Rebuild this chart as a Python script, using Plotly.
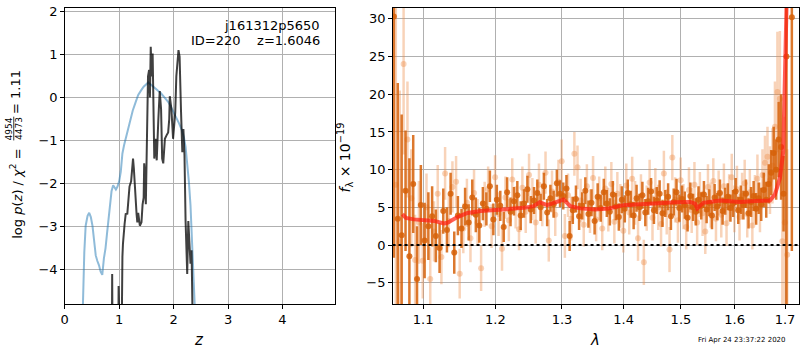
import plotly.graph_objects as go

# ---------------- redshift probability panel ----------------
z_phot = [0.29, 0.33, 0.36, 0.385, 0.42, 0.45, 0.48, 0.51, 0.54, 0.57, 0.60, 0.63,
          0.66, 0.69, 0.72, 0.75, 0.78, 0.81, 0.84, 0.86, 0.89, 0.92, 0.94, 0.97,
          1.00, 1.03, 1.06, 1.09, 1.12, 1.15, 1.20, 1.25, 1.30, 1.35, 1.40, 1.45,
          1.535, 1.58, 1.62, 1.67, 1.72, 1.76, 1.80, 1.85, 1.90, 1.945, 2.00, 2.04,
          2.10, 2.15, 2.19, 2.22, 2.25, 2.28, 2.31, 2.34, 2.37, 2.40, 2.42, 2.46]
logp_phot = [-7.0, -4.6, -3.6, -2.98, -2.75, -2.68, -2.78, -2.98, -3.35, -3.67, -3.80, -3.90,
             -4.05, -4.12, -3.74, -3.50, -3.13, -2.80, -2.35, -2.18, -2.04, -2.10, -2.14, -2.07,
             -1.95, -1.72, -1.30, -1.11, -0.95, -0.78, -0.52, -0.30, -0.12, 0.06, 0.16, 0.25,
             0.35, 0.30, 0.24, 0.19, 0.15, 0.11, 0.05, -0.02, -0.10, -0.20, -0.33, -0.43,
             -0.60, -0.75, -0.93, -1.15, -1.50, -1.95, -2.50, -3.20, -3.90, -4.50, -4.85, -7.0]

z_fit = [0.860, 0.872, 0.884, 0.980, 0.990, 1.000, 1.035, 1.060, 1.070, 1.100,
         1.120, 1.150, 1.160, 1.190, 1.220, 1.240, 1.255, 1.270, 1.300, 1.320,
         1.334, 1.350, 1.380, 1.410, 1.430, 1.450, 1.460, 1.470, 1.490, 1.500,
         1.520, 1.530, 1.550, 1.565, 1.580, 1.600, 1.615, 1.630, 1.645, 1.670,
         1.690, 1.720, 1.745, 1.770, 1.790, 1.810, 1.840, 1.870, 1.900, 1.920,
         1.930, 1.960, 1.980, 1.990, 2.030, 2.050, 2.090, 2.110, 2.135, 2.160,
         2.180, 2.200, 2.220, 2.240, 2.250, 2.270, 2.290, 2.310, 2.330, 2.370]
logp_fit = [-7.0, -4.10, -7.0, -7.0, -4.38, -7.0, -7.0, -3.70, -3.40, -2.94,
            -2.71, -2.70, -2.49, -2.07, -1.95, -1.72, -1.42, -1.65, -2.45, -2.71,
            -2.90, -2.68, -2.98, -2.90, -2.49, -2.33, -1.53, -1.72, -2.48, -1.50,
            -0.20, 0.49, 0.64, 0.00, 1.18, 0.49, 1.02, -0.05, -1.42, -0.96,
            -1.46, -0.50, 0.15, -0.27, -1.42, -1.53, -0.96, -0.88, -0.81, -0.50,
            0.03, -0.27, -0.88, -0.96, -0.35, 0.49, 1.10, 0.95, -0.27, -1.27,
            -0.73, -1.34, -2.87, -4.00, -4.10, -2.87, -3.52, -3.86, -3.55, -7.0]

# ---------------- 1D spectrum panel (two orients + model) ----------------
wave_a = [1.062, 1.067, 1.072, 1.077, 1.082, 1.087, 1.092, 1.097, 1.102, 1.107,
          1.112, 1.117, 1.122, 1.127, 1.132, 1.137, 1.142, 1.147, 1.152, 1.157,
          1.162, 1.167, 1.172, 1.177, 1.182, 1.187, 1.192, 1.197, 1.202, 1.207,
          1.212, 1.217, 1.222, 1.227, 1.232, 1.237, 1.242, 1.247, 1.252, 1.257,
          1.262, 1.267, 1.272, 1.277, 1.282, 1.287, 1.292, 1.297, 1.302, 1.307,
          1.312, 1.317, 1.322, 1.327, 1.332, 1.337, 1.342, 1.347, 1.352, 1.357,
          1.362, 1.367, 1.372, 1.377, 1.382, 1.387, 1.392, 1.397, 1.402, 1.407,
          1.412, 1.417, 1.422, 1.427, 1.432, 1.437, 1.442, 1.447, 1.452, 1.457,
          1.462, 1.467, 1.472, 1.477, 1.482, 1.487, 1.492, 1.497, 1.502, 1.507,
          1.512, 1.517, 1.522, 1.527, 1.532, 1.537, 1.542, 1.547, 1.552, 1.557,
          1.562, 1.567, 1.572, 1.577, 1.582, 1.587, 1.592, 1.597, 1.602, 1.607,
          1.612, 1.617, 1.622, 1.627, 1.632, 1.637, 1.642, 1.647, 1.652, 1.657,
          1.662, 1.667, 1.672, 1.677, 1.682, 1.687, 1.692, 1.697, 1.703, 1.714]
flux_a = [30.3, 3.5, 1.3, 7.2, -1.5, 8.1, -4.5, 5.3, 0.6, 2.5,
          3.8, 1.2, -0.4, 4.5, 2.0, 6.8, -1.0, 3.9, 2.2, 5.1,
          3.0, 6.3, 4.0, 2.6, 5.5, 4.8, 7.8, 3.4, 6.0, 5.2,
          2.4, 7.0, 4.4, 5.8, 6.6, 3.9, 5.5, 7.4, 4.7, 5.9,
          6.9, 5.0, 7.8, 4.3, 6.2, 5.4, 8.2, 6.8, 6.5, 7.5,
          1.2, 4.6, 6.1, 3.8, 5.2, 7.2, 4.1, 5.6, 3.2, 6.4,
          4.9, 7.0, 5.5, 4.4, 6.7, 5.1, 3.7, 6.0, 4.8, 6.9,
          5.4, 3.9, 6.2, 5.0, 6.6, 4.3, 5.8, 7.1, 4.6, 5.9,
          6.8, 4.2, 5.5, 6.4, 3.8, 5.7, 7.0, 4.9, 6.1, 5.3,
          3.6, 6.5, 5.0, 4.4, 6.0, 5.2, 6.7, 4.7, 5.6, 3.9,
          6.3, 5.1, 6.9, 4.5, 5.8, 6.4, 4.9, 5.5, 7.1, 4.6,
          6.0, 5.3, 6.8, 4.2, 5.7, 6.5, 4.8, 6.2, 5.4, 7.3,
          6.0, 8.1, 9.6, 12.2, 10.0, 14.0, 13.0, 6.8, 25.0, 30.2]
err_a = [32, 18, 16, 8, 13, 6.5, 7, 5.3, 5, 4.5,
         4.0, 3.5, 3.3, 3.0, 3.0, 2.8, 2.8, 2.6, 2.6, 2.5,
         2.4, 2.4, 2.3, 2.3, 2.2, 2.2, 2.1, 2.1, 2.0, 2.0,
         2.0, 2.0, 1.9, 1.9, 1.9, 1.9, 1.9, 1.8, 1.8, 1.8,
         1.8, 1.8, 1.8, 1.8, 1.8, 1.8, 1.8, 1.8, 1.8, 1.8,
         2.0, 1.8, 1.8, 1.8, 1.8, 1.8, 1.8, 1.8, 1.8, 1.8,
         1.8, 1.8, 1.8, 1.8, 1.8, 1.8, 1.8, 1.8, 1.8, 1.8,
         1.8, 1.8, 1.8, 1.8, 1.8, 1.8, 1.8, 1.8, 1.8, 1.8,
         1.8, 1.8, 1.8, 1.8, 1.8, 1.8, 1.8, 1.8, 1.8, 1.8,
         1.8, 1.8, 1.8, 1.8, 1.8, 1.8, 1.8, 1.8, 1.8, 1.8,
         1.8, 1.8, 1.8, 1.8, 1.8, 1.8, 1.8, 1.8, 1.8, 1.8,
         1.9, 1.9, 1.9, 2.0, 2.0, 2.0, 2.1, 2.1, 2.2, 2.3,
         2.4, 2.6, 3.0, 3.5, 4.0, 5.0, 7.0, 5.0, 40, 31]

wave_b = [1.0645, 1.0695, 1.0745, 1.0795, 1.0845, 1.0895, 1.0945, 1.0995, 1.1045, 1.1095,
          1.1145, 1.1195, 1.1245, 1.1295, 1.1345, 1.1395, 1.1445, 1.1495, 1.1545, 1.1595,
          1.1645, 1.1695, 1.1745, 1.1795, 1.1845, 1.1895, 1.1945, 1.1995, 1.2045, 1.2095,
          1.2145, 1.2195, 1.2245, 1.2295, 1.2345, 1.2395, 1.2445, 1.2495, 1.2545, 1.2595,
          1.2645, 1.2695, 1.2745, 1.2795, 1.2845, 1.2895, 1.2945, 1.2995, 1.3045, 1.3095,
          1.3145, 1.3195, 1.3245, 1.3295, 1.3345, 1.3395, 1.3445, 1.3495, 1.3545, 1.3595,
          1.3645, 1.3695, 1.3745, 1.3795, 1.3845, 1.3895, 1.3945, 1.3995, 1.4045, 1.4095,
          1.4145, 1.4195, 1.4245, 1.4295, 1.4345, 1.4395, 1.4445, 1.4495, 1.4545, 1.4595,
          1.4645, 1.4695, 1.4745, 1.4795, 1.4845, 1.4895, 1.4945, 1.4995, 1.5045, 1.5095,
          1.5145, 1.5195, 1.5245, 1.5295, 1.5345, 1.5395, 1.5445, 1.5495, 1.5545, 1.5595,
          1.5645, 1.5695, 1.5745, 1.5795, 1.5845, 1.5895, 1.5945, 1.5995, 1.6045, 1.6095,
          1.6145, 1.6195, 1.6245, 1.6295, 1.6345, 1.6395, 1.6445, 1.6495, 1.6545, 1.6595,
          1.6645, 1.6695, 1.6745, 1.6795, 1.6845, 1.6895, 1.6945, 1.6995, 1.7045]
flux_b = [8.0, 0.5, 24.0, 14.0, 6.2, -2.0, 3.0, -2.1, 5.0, -4.5,
          1.8, 6.8, -1.6, 9.5, 3.2, 7.7, 8.4, -3.8, 2.2, 5.6,
          0.9, 6.9, 3.0, -3.1, 5.4, 7.4, 2.5, 9.0, 4.1, -0.5,
          6.3, 3.3, 8.7, 5.0, 2.1, 7.6, 4.4, 9.3, 6.1, 3.0,
          8.0, 5.3, 9.6, 0.6, 7.1, 4.0, 8.4, 11.1, 1.2, 6.6,
          3.5, 12.1, 10.3, 5.9, 2.7, 7.8, 4.5, 8.9, 3.4, 6.2,
          2.2, 7.5, 4.7, 8.1, 3.1, 6.8, 5.2, 1.9, 7.9, 4.3,
          8.8, 5.6, 0.9, 6.4, -2.3, 4.9, 8.3, 3.6, 7.2, 5.0,
          2.8, 9.5, 4.4, -0.6, 11.6, 6.0, 3.3, 8.6, 5.1, 2.4,
          7.3, 4.6, 8.0, 3.0, 6.7, 4.2, 1.8, 7.7, 5.3, 8.5,
          3.5, 6.9, 4.0, 7.8, 2.9, 6.3, 9.0, 4.8, 7.4, 3.7,
          6.5, 8.2, 4.1, 7.0, 2.6, 6.1, 8.8, 5.0, 9.3, 10.9,
          11.7, 8.6, 10.5, 15.7, 20.3, 19.4, 0.5, 3.0, -1.3]
err_b = [24, 20, 12, 7.7, 6.5, 6.0, 5.5, 5.0, 4.5, 4.2,
         4.0, 3.8, 3.6, 3.5, 3.5, 3.4, 3.4, 3.3, 3.3, 3.2,
         3.2, 3.1, 3.1, 3.0, 3.0, 3.0, 2.9, 2.9, 2.9, 2.9,
         2.8, 2.8, 2.8, 2.8, 2.8, 2.8, 2.8, 2.8, 2.8, 2.8,
         2.8, 2.8, 2.8, 2.8, 2.8, 2.8, 2.9, 2.9, 2.9, 2.9,
         2.9, 2.9, 2.9, 2.9, 2.9, 2.9, 2.9, 2.9, 2.9, 2.9,
         2.9, 2.9, 2.9, 2.9, 2.9, 2.9, 2.9, 2.9, 2.9, 2.9,
         2.9, 2.9, 3.0, 3.0, 3.0, 3.0, 3.0, 3.0, 3.0, 3.0,
         3.0, 3.0, 3.0, 3.0, 3.0, 3.0, 3.0, 3.0, 3.0, 3.0,
         3.0, 3.0, 3.0, 3.0, 3.0, 3.0, 3.0, 3.0, 3.0, 3.0,
         3.0, 3.0, 3.0, 3.0, 3.0, 3.1, 3.1, 3.1, 3.1, 3.1,
         3.1, 3.1, 3.1, 3.1, 3.2, 3.2, 3.2, 3.3, 3.4, 3.6,
         4.0, 4.5, 5.0, 6.0, 8.0, 9.0, 12, 14, 14]

model_wave = [1.073, 1.0774, 1.0881, 1.100, 1.1146, 1.1279, 1.1326, 1.1464, 1.1603, 1.1789,
              1.1976, 1.220, 1.2415, 1.2565, 1.2656, 1.2769, 1.2896, 1.3026, 1.3131, 1.3289,
              1.353, 1.375, 1.3999, 1.430, 1.4571, 1.490, 1.5165, 1.5256, 1.5298, 1.535,
              1.5408, 1.5726, 1.6105, 1.640, 1.6694, 1.6795, 1.6896, 1.6963, 1.6997, 1.7032,
              1.706]
model_flux = [4.1, 3.6, 3.4, 3.35, 3.2, 2.85, 2.95, 3.7, 4.25, 4.5,
              4.6, 4.8, 4.93, 5.16, 5.68, 5.29, 5.59, 6.03, 5.16, 4.86,
              4.72, 4.85, 5.29, 5.45, 5.59, 5.68, 5.72, 5.5, 4.86, 5.3,
              5.59, 5.9, 5.72, 5.85, 5.9, 6.69, 8.87, 12.4, 23.3, 31.4,
              40.0]

obj_name = "j161312p5650"
obj_info = "ID=220    z=1.6046"
chi2_num, chi2_den, chi2_red = "4954", "4473", "1.11"
stamp = "Fri Apr 24 23:37:22 2020"

W, H = 800, 350
FONT = "DejaVu Sans"


def px(x):
    return x / W


def py(y):
    return 1 - y / H


fig = go.Figure()

fig.add_trace(go.Scatter(x=z_phot, y=logp_phot, mode="lines",
                         line=dict(color="rgba(31,119,180,0.5)", width=2),
                         xaxis="x", yaxis="y", hoverinfo="skip", showlegend=False))
fig.add_trace(go.Scatter(x=z_fit, y=logp_fit, mode="lines",
                         line=dict(color="rgba(0,0,0,0.75)", width=2),
                         xaxis="x", yaxis="y", hoverinfo="skip", showlegend=False))

light = "rgba(236,140,70,0.38)"
dark = "rgba(214,96,8,0.85)"
fig.add_trace(go.Scatter(x=wave_b, y=flux_b, mode="markers",
                         marker=dict(color=light, size=6, line=dict(width=0)),
                         error_y=dict(type="data", array=err_b, color=light,
                                      thickness=2.5, width=0),
                         xaxis="x2", yaxis="y2", hoverinfo="skip", showlegend=False))
fig.add_trace(go.Scatter(x=wave_a, y=flux_a, mode="markers",
                         marker=dict(color=dark, size=6, line=dict(width=0)),
                         error_y=dict(type="data", array=err_a, color=dark,
                                      thickness=2.5, width=0),
                         xaxis="x2", yaxis="y2", hoverinfo="skip", showlegend=False))
fig.add_trace(go.Scatter(x=model_wave, y=model_flux, mode="lines",
                         line=dict(color="rgba(255,30,20,0.72)", width=4),
                         xaxis="x2", yaxis="y2", hoverinfo="skip", showlegend=False))

axis_style = dict(showline=True, linecolor="black", linewidth=1, mirror=True,
                  ticks="outside", ticklen=3.5, tickwidth=1, tickcolor="black",
                  showgrid=True, gridcolor="#b0b0b0", gridwidth=1, zeroline=False,
                  tickfont=dict(family=FONT, size=13, color="black"))

fig.update_layout(
    width=W, height=H, autosize=False,
    margin=dict(l=0, r=0, t=0, b=0),
    paper_bgcolor="white", plot_bgcolor="white",
    xaxis=dict(domain=[px(61), px(333)], range=[0, 4.97],
               tickvals=[0, 1, 2, 3, 4], anchor="y", **axis_style),
    yaxis=dict(domain=[py(303.5), py(4.5)], range=[-4.8, 2.07],
               tickvals=[-4, -3, -2, -1, 0, 1, 2], anchor="x", **axis_style),
    xaxis2=dict(type="log", domain=[px(390.5), px(799)], range=[0.02543, 0.23775],
                tickvals=[1.1, 1.2, 1.3, 1.4, 1.5, 1.6, 1.7],
                ticktext=["1.1", "1.2", "1.3", "1.4", "1.5", "1.6", "1.7"],
                anchor="y2", **axis_style),
    yaxis2=dict(domain=[py(303.5), py(4)], range=[-7.83, 31.45],
                tickvals=[-5, 0, 5, 10, 15, 20, 25, 30], anchor="x2", **axis_style),
)

# zero-flux reference
fig.add_shape(type="line", xref="x2 domain", yref="y2", x0=0, x1=1, y0=0, y1=0,
              line=dict(color="black", width=2, dash="dot"), layer="above")

ann_font = dict(family=FONT, size=13, color="black")
lab_font = dict(family=FONT, size=13, color="black")
frac_font = dict(family=FONT, size=9, color="black")
annotations = [
    dict(text="<i>z</i>", x=px(196), y=py(340), font=dict(family=FONT, size=15, color="black")),
    dict(text="<i>λ</i>", x=px(594), y=py(340), font=dict(family=FONT, size=15, color="black")),
    # y label of the p(z) panel, built from pieces so the chi-square ratio stacks
    dict(text="log <i>p</i>(<i>z</i>) / <i>χ</i><sup>2</sup> =", x=px(12), y=py(192),
         textangle=-90, font=lab_font),
    dict(text=chi2_num, x=px(5), y=py(126), textangle=-90, font=frac_font),
    dict(text=chi2_den, x=px(14.5), y=py(126), textangle=-90, font=frac_font),
    dict(text="= " + chi2_red, x=px(12), y=py(89), textangle=-90, font=lab_font),
    dict(text="<i>f</i><sub>λ</sub> × 10<sup>−19</sup>", x=px(343), y=py(155),
         textangle=-90, font=dict(family=FONT, size=14, color="black")),
    dict(text=obj_name, x=px(320), y=py(22), xanchor="right", font=ann_font),
    dict(text=obj_info, x=px(320), y=py(37), xanchor="right", font=ann_font),
    dict(text=stamp, x=px(788), y=py(340), xanchor="right",
         font=dict(family=FONT, size=7, color="black")),
]
for a in annotations:
    a.setdefault("xanchor", "center")
    a.setdefault("yanchor", "middle")
    fig.add_annotation(xref="paper", yref="paper", showarrow=False, **a)

# fraction bar of the chi-square ratio
fig.add_shape(type="line", xref="paper", yref="paper",
              x0=px(9.8), x1=px(9.8), y0=py(114), y1=py(138),
              line=dict(color="black", width=0.8))

fig.write_html("out.html")
